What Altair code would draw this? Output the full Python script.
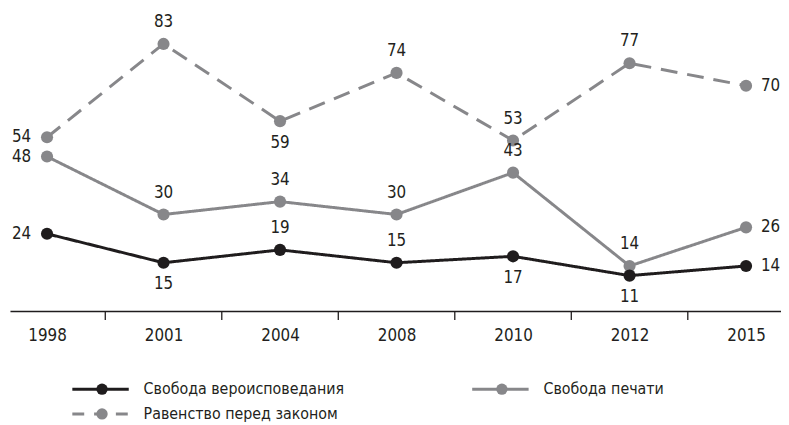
import altair as alt
import pandas as pd

# ---- data ----
years = ["1998", "2001", "2004", "2008", "2010", "2012", "2015"]
series_names = ["Свобода вероисповедания", "Свобода печати", "Равенство перед законом"]
religion = [24, 15, 19, 15, 17, 11, 14]
press = [48, 30, 34, 30, 43, 14, 26]
equality = [54, 83, 59, 74, 53, 77, 70]
# label placement relative to each point
religion_pos = ["left", "below", "above", "above", "below", "below", "right"]
press_pos = ["left", "above", "above", "above", "above", "above", "right"]
equality_pos = ["left", "above", "below", "above", "above", "above", "right"]

BLACK = "#1f1c1d"
GRAY = "#87878a"
FONT = "Liberation Sans Narrow, DejaVu Sans Condensed, Roboto, sans-serif"
TXT = "#231f20"

rows = []
for name, vals, poss in zip(series_names, [religion, press, equality],
                            [religion_pos, press_pos, equality_pos]):
    for i, (y, v, p) in enumerate(zip(years, vals, poss)):
        rows.append({"idx": i, "year": y, "series": name, "value": v, "pos": p})
df = pd.DataFrame(rows)

# tick marks sit between neighbouring categories
ticks_df = pd.DataFrame({"idx": [i + 0.5 for i in range(len(years) - 1)]})

label_expr = "[" + ",".join(f"'{y}'" for y in years) + "][datum.value]"

xscale = alt.Scale(domain=[-0.318, 6.30], nice=False, zero=False)
yscale = alt.Scale(domain=[0, 93.5], nice=False, zero=False)

X = alt.X("idx:Q", scale=xscale,
          axis=alt.Axis(values=list(range(len(years))), labelExpr=label_expr,
                        ticks=False, grid=False, title=None, domainColor=BLACK,
                        domainWidth=1.5, labelFont=FONT, labelFontSize=17,
                        labelColor=TXT, labelPadding=17, labelFlush=False))
Y = alt.Y("value:Q", scale=yscale, axis=None)

color = alt.Color("series:N", scale=alt.Scale(domain=series_names,
                                             range=[BLACK, GRAY, GRAY]), legend=None)
dash = alt.StrokeDash("series:N", scale=alt.Scale(domain=series_names,
                                                  range=[[1, 0], [1, 0], [17, 10]]),
                      legend=None)

base = alt.Chart(df)

layers = []
# lines, drawn dashed first, black last
for name in reversed(series_names):
    sub = base.transform_filter(alt.datum.series == name)
    layers.append(sub.mark_line(strokeWidth=3).encode(x=X, y=Y, color=color, strokeDash=dash))
for name in reversed(series_names):
    sub = base.transform_filter(alt.datum.series == name)
    layers.append(sub.mark_circle(size=150, opacity=1).encode(x=X, y=Y, color=color))

# tick marks between categories
layers.append(alt.Chart(ticks_df).mark_rule(color=BLACK, strokeWidth=1.3).encode(
    x=X, y=alt.value(304), y2=alt.value(313)))

# value labels
place = {
    "left": dict(align="right", baseline="middle", dx=-16, dy=0),
    "right": dict(align="left", baseline="middle", dx=15, dy=0),
    "above": dict(align="center", baseline="middle", dx=0, dy=-22),
    "below": dict(align="center", baseline="middle", dx=0, dy=22),
}
for p, kw in place.items():
    layers.append(base.transform_filter(alt.datum.pos == p).mark_text(
        font=FONT, fontSize=17, color=TXT, **kw).encode(x=X, y=Y, text="value:Q"))

# custom legend
one = pd.DataFrame({"a": [0]})
legend_items = [
    (series_names[0], BLACK, [1, 0], 63, 383),
    (series_names[1], GRAY, [1, 0], 467, 383),
    (series_names[2], GRAY, [12, 10], 63, 408),
]
for name, col, sd, x0, yy in legend_items:
    layers.append(alt.Chart(one).mark_rule(color=col, strokeWidth=3, strokeDash=sd).encode(
        x=alt.value(x0), x2=alt.value(x0 + 57), y=alt.value(yy)))
    layers.append(alt.Chart(one).mark_circle(color=col, size=130, opacity=1).encode(
        x=alt.value(x0 + 30), y=alt.value(yy)))
    layers.append(alt.Chart(one).mark_text(font=FONT, fontSize=16, color=TXT,
                                           align="left", baseline="middle").encode(
        x=alt.value(x0 + 72), y=alt.value(yy), text=alt.value(name)))

chart = alt.layer(*layers).properties(
    width=779, height=304,
    autosize=alt.AutoSizeParams(type="none"),
    padding={"left": 2, "top": 0, "right": 0, "bottom": 113},
).configure_view(stroke=None)

chart.save("out.html", embed_options={"renderer": "svg", "actions": False})
